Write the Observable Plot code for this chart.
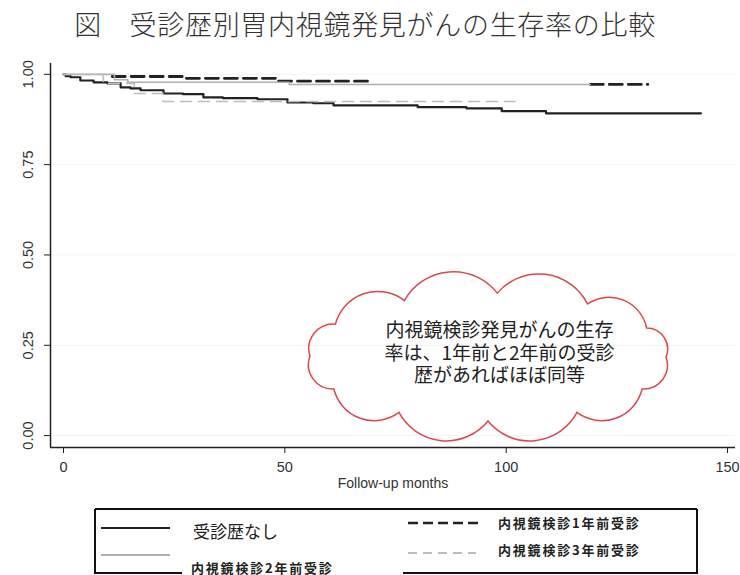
<!DOCTYPE html>
<html><head><meta charset="utf-8">
<script src="https://cdn.jsdelivr.net/npm/d3@7"></script>
<script src="https://cdn.jsdelivr.net/npm/@observablehq/plot@0.6"></script>
<style>
body{margin:0;background:#fff;width:740px;height:575px;overflow:hidden;}
#title{height:48px;line-height:48px;text-align:center;font-family:"Noto Sans CJK JP";font-weight:300;font-size:27px;letter-spacing:0.7px;color:#333;position:relative;left:-5px;white-space:pre;}
#chart svg,#legend svg{display:block;}
</style></head><body>
<div id="title">図　受診歴別胃内視鏡発見がんの生存率の比較</div>
<div id="chart"></div>
<div id="legend"></div>
<script>
// ---- data ----
const seriesNames = ["受診歴なし", "内視鏡検診1年前受診", "内視鏡検診2年前受診", "内視鏡検診3年前受診"];

const noHistMonths = [0, 0.5, 1.6, 3.8, 6.8, 9.9, 12.9, 15.1, 17.4, 22.6, 27, 31.6, 36, 43.8, 50.6, 56.4, 61, 80, 91, 99, 109, 144];
const noHistSurv   = [1.0, 0.995, 0.992, 0.983, 0.978, 0.975, 0.964, 0.961, 0.956, 0.947, 0.945, 0.936, 0.934, 0.931, 0.922, 0.920, 0.914, 0.909, 0.906, 0.898, 0.892, 0.892];

const oneYearMonths = [11, 27, 48, 70, 70, 119, 132];
const oneYearSurv   = [0.994, 0.989, 0.981, 0.981, null, 0.972, 0.972];

const twoYearMonths = [0, 11.5, 14.5, 51, 119];
const twoYearSurv   = [1.0, 0.985, 0.978, 0.972, 0.972];

const threeYearMonths = [0, 9, 16, 22.5, 102];
const threeYearSurv   = [1.0, 0.975, 0.947, 0.925, 0.925];

const xTicks = [0, 50, 100, 150];
const yTicks = [0, 0.25, 0.5, 0.75, 1.0];
const xLabel = "Follow-up months";
const cloudLines = ["内視鏡検診発見がんの生存", "率は、1年前と2年前の受診", "歴があればほぼ同等"];

// ---- build ----
const rows = [];
const add = (name, ts, ss) => ts.forEach((t, i) => rows.push({series: name, t, s: ss[i]}));
add(seriesNames[0], noHistMonths, noHistSurv);
add(seriesNames[1], oneYearMonths, oneYearSurv);
add(seriesNames[2], twoYearMonths, twoYearSurv);
add(seriesNames[3], threeYearMonths, threeYearSurv);
const of = name => rows.filter(r => r.series === name);

const xDom = [-2.94, 151.8];
const yDom = [-0.033, 1.030];

const plot = Plot.plot({
  width: 740, height: 452,
  marginLeft: 50, marginRight: 5, marginTop: 15, marginBottom: 53,
  style: {fontFamily: "'Liberation Sans', Arial, sans-serif", fontSize: "14px", color: "#222", background: "#fff"},
  x: {domain: xDom},
  y: {domain: yDom},
  marks: [
    Plot.ruleY(yTicks, {stroke: "#f3f3f3", strokeWidth: 1}),
    Plot.line(of(seriesNames[0]), {x: "t", y: "s", curve: "step-after", stroke: "#222", strokeWidth: 2.2}),
    Plot.line(of(seriesNames[1]), {x: "t", y: "s", curve: "step-after", stroke: "#222", strokeWidth: 2.8, strokeDasharray: "13,6"}),
    Plot.line(of(seriesNames[2]), {x: "t", y: "s", curve: "step-after", stroke: "#b0b0b0", strokeWidth: 1.6}),
    Plot.line(of(seriesNames[3]), {x: "t", y: "s", curve: "step-after", stroke: "#bdbdbd", strokeWidth: 1.6, strokeDasharray: "11,7"}),
    Plot.ruleX([xDom[0]], {stroke: "#222", strokeWidth: 1.5}),
    Plot.ruleY([yDom[0]], {stroke: "#222", strokeWidth: 1.5}),
    Plot.axisX({ticks: xTicks, tickSize: 6, tickPadding: 8, label: null, stroke: "#222", fill: "#333", fontSize: 14.5}),
    Plot.axisY({ticks: yTicks, tickSize: 6, tickFormat: () => "", label: null, stroke: "#222"}),
    Plot.text(yTicks, {x: xDom[0], y: d => d, text: d => d.toFixed(2), rotate: -90, dx: -22, textAnchor: "middle", lineAnchor: "middle", fontSize: 14.5, fill: "#333"}),
    Plot.text([xLabel], {frameAnchor: "bottom", dy: 40, text: d => d, fontSize: 14, fill: "#333"}),
    Plot.text([cloudLines.join("\n")], {x: 98.5, y: 0.23, text: d => d, fontSize: 19, lineHeight: 1.17, fill: "#222", fontFamily: "'Noto Sans CJK JP'", textAnchor: "middle", lineAnchor: "middle"})
  ]
});
document.getElementById("chart").appendChild(plot);

// cloud outline
const xs = plot.scale("x"), ys = plot.scale("y");
const cx = xs.apply(96), cy = ys.apply(0.216);
const rx = 178, ry = 64;
const angles = [0, 30, 60, 90, 120, 150, 181, 211, 242, 273, 304, 333];
const pts = angles.map(a => [cx + rx * Math.cos(a * Math.PI / 180), cy + ry * Math.sin(a * Math.PI / 180)]);
let d = `M${pts[0][0]},${pts[0][1]}`;
for (let i = 0; i < pts.length; i++) {
  const p = pts[(i + 1) % pts.length], q = pts[i];
  const r = Math.hypot(p[0] - q[0], p[1] - q[1]) * 0.6;
  d += ` A${r},${r} 0 0 1 ${p[0]},${p[1]}`;
}
d3.select(plot).append("path").attr("d", d + "Z").attr("fill", "none").attr("stroke", "#e0474c").attr("stroke-width", 1.5);

// legend
const lg = d3.select("#legend").append("svg").attr("width", 740).attr("height", 75);
const bs = "#111";
lg.append("line").attr("x1", 95).attr("x2", 697).attr("y1", 9).attr("y2", 9).attr("stroke", bs).attr("stroke-width", 2);
lg.append("line").attr("x1", 95).attr("x2", 95).attr("y1", 9).attr("y2", 73).attr("stroke", bs).attr("stroke-width", 2);
lg.append("line").attr("x1", 697).attr("x2", 697).attr("y1", 9).attr("y2", 73).attr("stroke", bs).attr("stroke-width", 2);
lg.append("line").attr("x1", 94).attr("x2", 182).attr("y1", 73).attr("y2", 73).attr("stroke", bs).attr("stroke-width", 2);
lg.append("line").attr("x1", 403).attr("x2", 698).attr("y1", 73).attr("y2", 73).attr("stroke", bs).attr("stroke-width", 2);

const samples = [
  {x1: 101, x2: 170, y: 28, stroke: "#222", w: 2.2, dash: null},
  {x1: 408, x2: 479, y: 23, stroke: "#222", w: 2.6, dash: "10,5"},
  {x1: 101, x2: 170, y: 55, stroke: "#b0b0b0", w: 2, dash: null},
  {x1: 408, x2: 476, y: 53, stroke: "#bdbdbd", w: 2, dash: "9,6"}
];
samples.forEach(s => {
  const l = lg.append("line").attr("x1", s.x1).attr("x2", s.x2).attr("y1", s.y).attr("y2", s.y).attr("stroke", s.stroke).attr("stroke-width", s.w);
  if (s.dash) l.attr("stroke-dasharray", s.dash);
});
const labels = [
  {text: seriesNames[0], x: 193, y: 30, size: 17, weight: 400, ls: 0},
  {text: seriesNames[1], x: 498, y: 22, size: 13, weight: 700, ls: 1.8},
  {text: seriesNames[2], x: 191, y: 67, size: 13, weight: 700, ls: 1.8},
  {text: seriesNames[3], x: 498, y: 49, size: 13, weight: 700, ls: 1.8}
];
labels.forEach(l => {
  lg.append("text").attr("x", l.x).attr("y", l.y).attr("dominant-baseline", "central")
    .attr("font-family", "'Noto Sans CJK JP'").attr("font-size", l.size).attr("font-weight", l.weight)
    .attr("letter-spacing", l.ls).attr("fill", "#222").text(l.text);
});
</script>
</body></html>
